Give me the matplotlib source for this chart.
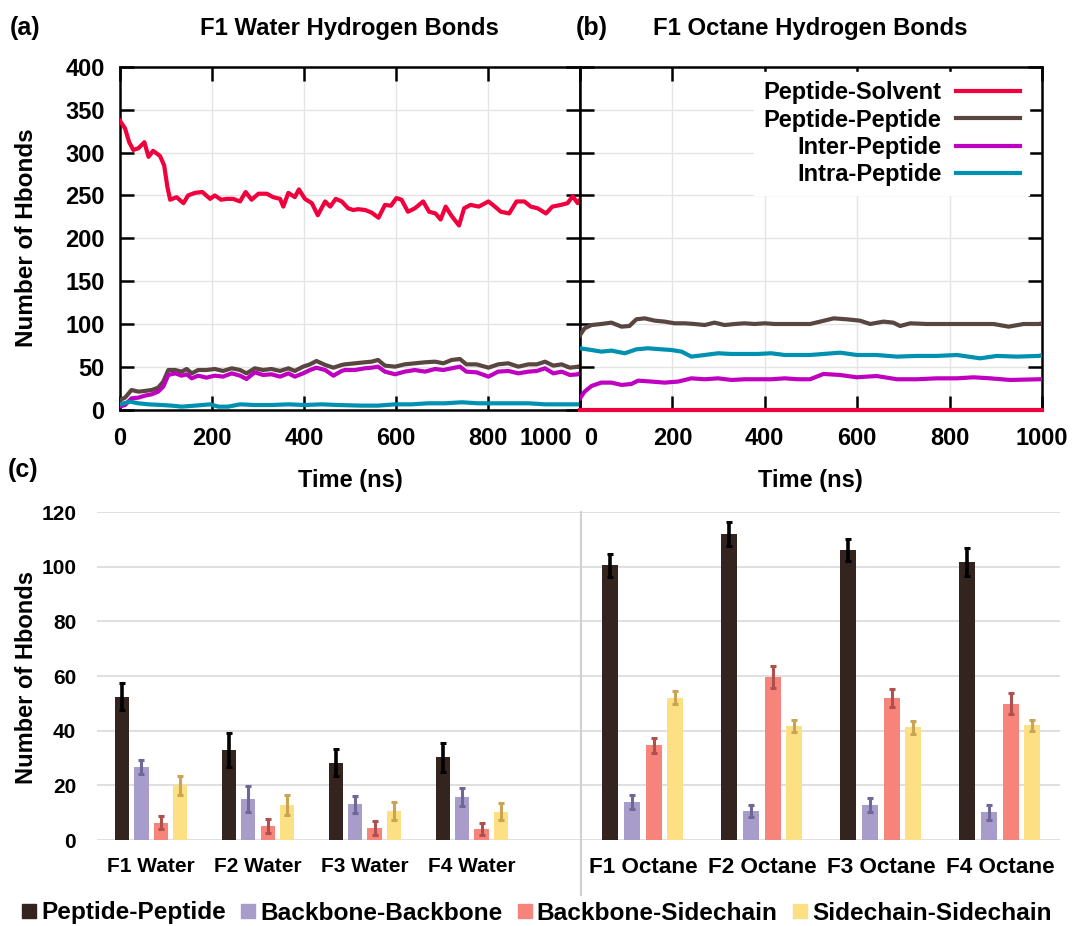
import matplotlib
matplotlib.use("Agg")
import matplotlib.pyplot as plt
import matplotlib.transforms as mtrans
from matplotlib.lines import Line2D
import numpy as np

plt.rcParams['font.family'] = ['Liberation Sans', 'DejaVu Sans']
plt.rcParams['font.weight'] = 'bold'
plt.rcParams['axes.labelweight'] = 'bold'

# ---------------- data: panel (a) F1 water ----------------
t_a_solv = [0, 11, 20, 29, 40, 53, 62, 72, 87, 96, 103, 109, 123, 138, 148, 163, 179, 196, 206, 220,
            232, 246, 261, 273, 286, 301, 319, 333, 348, 355, 366, 380, 389, 402, 417, 430, 446, 457, 469, 482,
            496, 507, 518, 533, 547, 562, 576, 589, 601, 612, 626, 641, 659, 672, 686, 697, 708, 721, 737, 748,
            762, 780, 801, 815, 828, 846, 862, 879, 893, 908, 926, 940, 959, 973, 984, 995, 1000]
a_solv = [337, 328, 312, 303, 305, 312, 295, 302, 296, 285, 260, 245, 248, 241, 250, 253, 254, 246, 250, 245,
          246, 246, 243, 254, 245, 252, 252, 248, 246, 237, 253, 248, 257, 246, 241, 227, 243, 237, 246, 243,
          235, 233, 234, 233, 230, 224, 239, 238, 247, 245, 231, 235, 243, 231, 229, 222, 237, 226, 215, 235,
          239, 237, 243, 237, 231, 229, 243, 243, 237, 235, 229, 237, 239, 241, 249, 241, 245]

t_a_pep = [0, 11, 25, 40, 54, 69, 83, 94, 105, 120, 134, 145, 156, 170, 188, 206, 224, 243, 261, 275,
           293, 311, 329, 348, 366, 380, 398, 413, 427, 446, 464, 482,
           489, 511, 532, 547, 561, 576, 598, 619, 641, 663, 685, 703, 721, 739, 753, 775, 801, 822, 844, 866,
           888, 906, 924, 942, 960, 978, 996, 1000]
a_pep = [11.7, 14.4, 23.3, 21.4, 22.2, 23.3, 26, 33, 46.6, 46.6, 44.7, 47.8, 42.7, 46.6, 46.6, 47.8, 45.5, 48.6,
         46.6, 42.7, 48.6, 46.6, 47.8, 45.5, 48.6, 45.5, 50.5, 53.2, 57.1, 52.5, 49.3, 52.5,
         53.2, 54.4, 55.6, 56.3, 58.3, 51.7, 50.5, 53.2, 54.4, 55.6, 56.3, 54.4, 58.3, 59.4, 53.2, 53.2, 49.3,
         53.2, 54.4, 50.5, 53.2, 53.2, 56.3, 51.7, 53.2, 49.3, 50.5, 51]
a_inter = [4, 5.8, 13.6, 14.4, 16.7, 18.3, 21.4, 27.2, 40.8, 42.7, 40, 41.6, 36.9, 40, 37.7, 40, 38.9, 42.7,
           40, 36.1, 43.9, 40.8, 41.6, 38.9, 42.7, 38.9, 42.7, 46.6, 49.3, 46.6, 40, 45.5,
           46.6, 46.6, 48.6, 49.3, 50.5, 44.7, 41.6, 44.7, 46.6, 44.7, 47.8, 46.6, 48.6, 50.5, 44.7, 43.9, 38.9,
           44.7, 45.5, 42.7, 44.7, 45.5, 48.6, 42.7, 44.7, 40.8, 41.6, 43]

t_a_intra = [0, 22, 40, 62, 91, 112, 134, 163, 196, 214, 235, 261, 293, 329, 366, 402, 438, 475,
             525, 561, 598, 634, 670, 706, 743, 779, 815, 851, 888, 924, 960, 1000]
a_intra = [6.6, 9.7, 7.8, 6.6, 5.8, 5.1, 3.9, 5.1, 6.6, 3.9, 3.9, 6.6, 5.8, 5.8, 6.6, 5.8, 6.6, 5.8,
           5.1, 5.1, 6.6, 6.6, 7.8, 7.8, 9, 7.8, 7.8, 7.8, 7.8, 6.6, 6.6, 6.6]

# ---------------- data: panel (b) F1 octane ----------------
t_b_solv = [0, 1000]
b_solv = [0, 0]

t_b_pep = [0, 10, 25, 46, 68, 90, 107, 122, 140, 162, 183, 205, 227, 248, 270, 291, 313, 335, 356, 378,
           400, 421, 443, 465, 486, 498, 520, 549, 577, 606, 628, 657, 678, 693, 715, 751, 787, 823, 859, 895,
           928, 960, 993, 1000]
b_pep = [87.4, 95.2, 99, 100.2, 101.8, 97.1, 97.9, 105.7, 106.8, 104.1, 103, 101, 101, 100.2, 99, 101.8, 99,
         100.2, 101, 100.2, 101, 100.2, 100.2, 100.2, 100.2, 100.2, 103, 106.8, 105.7, 104.1, 100.2, 103, 101.8,
         97.9, 101, 100.2, 100.2, 100.2, 100.2, 100.2, 97.1, 100.2, 100.2, 101]

t_b_intra = [0, 25, 46, 68, 97, 122, 147, 176, 198, 220, 241, 270, 299, 328, 356, 385, 414, 443, 472,
             498, 527, 563, 599, 642, 686, 729, 772, 816, 866, 902, 946, 993, 1000]
b_intra = [71.9, 69.9, 68, 69.2, 66.1, 70.7, 71.9, 70.7, 69.9, 68, 62.2, 64.1, 66.1, 65.3, 65.3, 65.3, 66.1,
           64.1, 64.1, 64.1, 65.3, 66.8, 64.1, 64.1, 62.2, 63, 63, 64.1, 60.2, 63, 62.2, 63, 64]

t_b_inter = [0, 10, 25, 46, 68, 90, 111, 126, 155, 183, 212, 227, 241, 270, 299, 328, 356, 385, 414, 443, 472,
             498, 527, 563, 599, 642, 686, 729, 772, 816, 852, 888, 931, 993, 1000]
b_inter = [13.6, 21.4, 28, 31.9, 31.9, 29.2, 30.3, 34.2, 33.1, 31.9, 33.1, 35, 36.9, 35.8, 36.9, 35, 35.8,
           35.8, 35.8, 36.9, 35.8, 35.8, 42, 40.8, 38.1, 39.6, 35.8, 35.8, 36.9, 36.9, 38.1, 36.9, 35, 35.8, 36]

line_labels = ['Peptide-Solvent', 'Peptide-Peptide', 'Inter-Peptide', 'Intra-Peptide']
line_colors = ['#f0003c', '#5a4640', '#c000c0', '#0090b0']

# ---------------- data: panel (c) ----------------
water_cats = ['F1 Water', 'F2 Water', 'F3 Water', 'F4 Water']
octane_cats = ['F1 Octane', 'F2 Octane', 'F3 Octane', 'F4 Octane']
bar_series = ['Peptide-Peptide', 'Backbone-Backbone', 'Backbone-Sidechain', 'Sidechain-Sidechain']
water_vals = [[52.4, 32.9, 28.3, 30.2],
              [26.6, 14.9, 13.0, 15.8],
              [6.3, 5.2, 4.4, 4.1],
              [20.0, 12.8, 10.7, 10.4]]
water_err = [[5.0, 6.3, 4.9, 5.2],
             [2.6, 4.8, 3.2, 3.2],
             [2.4, 2.5, 2.4, 2.3],
             [3.4, 3.5, 3.2, 3.0]]
octane_vals = [[100.5, 111.9, 106.1, 101.8],
               [13.8, 10.6, 12.8, 10.1],
               [34.7, 59.7, 51.9, 49.9],
               [52.1, 41.7, 41.3, 41.9]]
octane_err = [[4.1, 4.4, 4.0, 5.1],
              [2.6, 2.3, 2.6, 2.7],
              [2.8, 4.0, 3.2, 3.7],
              [2.4, 2.3, 2.4, 2.1]]
bar_colors = ['#33241f', '#a89ccb', '#f6847b', '#fde084']
err_colors = ['#000000', '#6d6896', '#b0504e', '#c9a552']

# ---------------- figure ----------------
W, H = 1072, 926
fig = plt.figure(figsize=(W / 100, H / 100), dpi=100)


def fx(px):
    return px / W


def fy(py):
    return 1 - py / H


axA = fig.add_axes([fx(120), fy(410), fx(460), (410 - 66.7) / H])
axB = fig.add_axes([fx(580), fy(410), fx(462), (410 - 66.7) / H])

seriesA = [(t_a_solv, a_solv), (t_a_pep, a_pep), (t_a_pep, a_inter), (t_a_intra, a_intra)]
seriesB = [(t_b_solv, b_solv), (t_b_pep, b_pep), (t_b_inter, b_inter), (t_b_intra, b_intra)]

for ax, series in ((axA, seriesA), (axB, seriesB)):
    order = [1, 2, 3, 0]
    for k in order:
        t, v = series[k]
        ax.plot(t, v, color=line_colors[k], lw=3.0, label=line_labels[k], zorder=3 if k else 4,
                clip_on=False if ax is axB and k == 0 else True, solid_joinstyle='round')
    ax.set_xlim(0, 1000)
    ax.set_ylim(0, 400)
    ax.set_xticks([0, 200, 400, 600, 800, 1000])
    ax.set_yticks(np.arange(0, 401, 50))
    ax.grid(True, color='#e4e4e4', lw=1)
    ax.set_axisbelow(True)
    for s in ax.spines.values():
        s.set_linewidth(1.8)
    ax.tick_params(direction='in', length=10, width=1.8, top=True, right=True,
                   labelsize=17, pad=12)

axA.tick_params(axis='y', pad=11)
axB.tick_params(axis='y', labelleft=False)

# shift edge labels apart
labA = axA.get_xticklabels()[-1]
labA.set_horizontalalignment('right')
labA.set_transform(labA.get_transform() + mtrans.ScaledTranslation(-8 / 100, 0, fig.dpi_scale_trans))
labB = axB.get_xticklabels()[0]
labB.set_horizontalalignment('left')
labB.set_transform(labB.get_transform() + mtrans.ScaledTranslation(4 / 100, 0, fig.dpi_scale_trans))

h, l = axB.get_legend_handles_labels()
idx = [l.index(n) for n in line_labels]
leg = axB.legend([h[i] for i in idx], [l[i] for i in idx], loc='upper right',
                 bbox_to_anchor=(0.972, 0.985), borderaxespad=0.0, markerfirst=False,
                 fontsize=17, handlelength=2.7, handletextpad=0.6, labelspacing=0.18,
                 frameon=True, facecolor='white', edgecolor='white', framealpha=1, borderpad=0.4,
                 fancybox=False)
for ln in leg.get_lines():
    ln.set_linewidth(3)

fig.text(fx(10), fy(28), '(a)', fontsize=18, va='center', ha='left')
fig.text(fx(576), fy(28), '(b)', fontsize=18, va='center', ha='left')
fig.text(fx(8), fy(470), '(c)', fontsize=18, va='center', ha='left')
fig.text(fx(349), fy(28), 'F1 Water Hydrogen Bonds', fontsize=17.2, va='center', ha='center')
fig.text(fx(810), fy(28), 'F1 Octane Hydrogen Bonds', fontsize=17.2, va='center', ha='center')
fig.text(fx(350), fy(480), 'Time (ns)', fontsize=17, va='center', ha='center')
fig.text(fx(810), fy(480), 'Time (ns)', fontsize=17, va='center', ha='center')
fig.text(fx(27), fy(238), 'Number of Hbonds', fontsize=17.5, va='center', ha='center', rotation=90)
fig.text(fx(27), fy(677), 'Number of Hbonds', fontsize=17, va='center', ha='center', rotation=90)

# ---------------- panel (c) ----------------
axW = fig.add_axes([fx(97), fy(840), fx(483), (840 - 512) / H])
axO = fig.add_axes([fx(581), fy(840), fx(479), (840 - 512) / H])
pitch = 0.182
bw = 0.135
for ax, cats, vals, errs, xl, lsize in ((axW, water_cats, water_vals, water_err, (-0.505, 4.01), 15),
                                        (axO, octane_cats, octane_vals, octane_err, (-0.52, 3.505), 16.2)):
    x = np.arange(len(cats))
    for j in range(len(bar_series)):
        xs = x + (j - 1.5) * pitch
        ax.bar(xs, vals[j], width=bw, color=bar_colors[j], zorder=2, label=bar_series[j])
        ax.errorbar(xs, vals[j], yerr=errs[j], fmt='none', ecolor=err_colors[j],
                    elinewidth=2.6 if j == 0 else 2.2, capsize=2.5, capthick=2.2, zorder=3)
    ax.set_xlim(*xl)
    ax.set_ylim(0, 120)
    ax.set_yticks(np.arange(0, 121, 20))
    ax.set_xticks(x)
    ax.set_xticklabels(cats)
    ax.grid(True, axis='y', color='#d9d9d9', lw=1.2, zorder=0)
    ax.set_axisbelow(True)
    for s in ax.spines.values():
        s.set_visible(False)
    ax.tick_params(length=0, labelsize=lsize, pad=10)
    ax.tick_params(axis='x', pad=12)

axW.tick_params(axis='y', labelsize=15, pad=15)
axO.tick_params(axis='y', labelleft=False)

fig.add_artist(Line2D([fx(581), fx(581)], [fy(895), fy(512)], color='#d0d0d0', lw=1.5))

handles = [Line2D([], [], marker='s', ls='', color=c, markersize=10) for c in bar_colors]
fig.legend(handles, bar_series, loc='center', bbox_to_anchor=(0.5, fy(913)), ncol=4,
           frameon=False, fontsize=17.6, handlelength=0.7, handletextpad=0.15, columnspacing=0.55,
           borderaxespad=0)

fig.savefig('out.png', dpi=100)
